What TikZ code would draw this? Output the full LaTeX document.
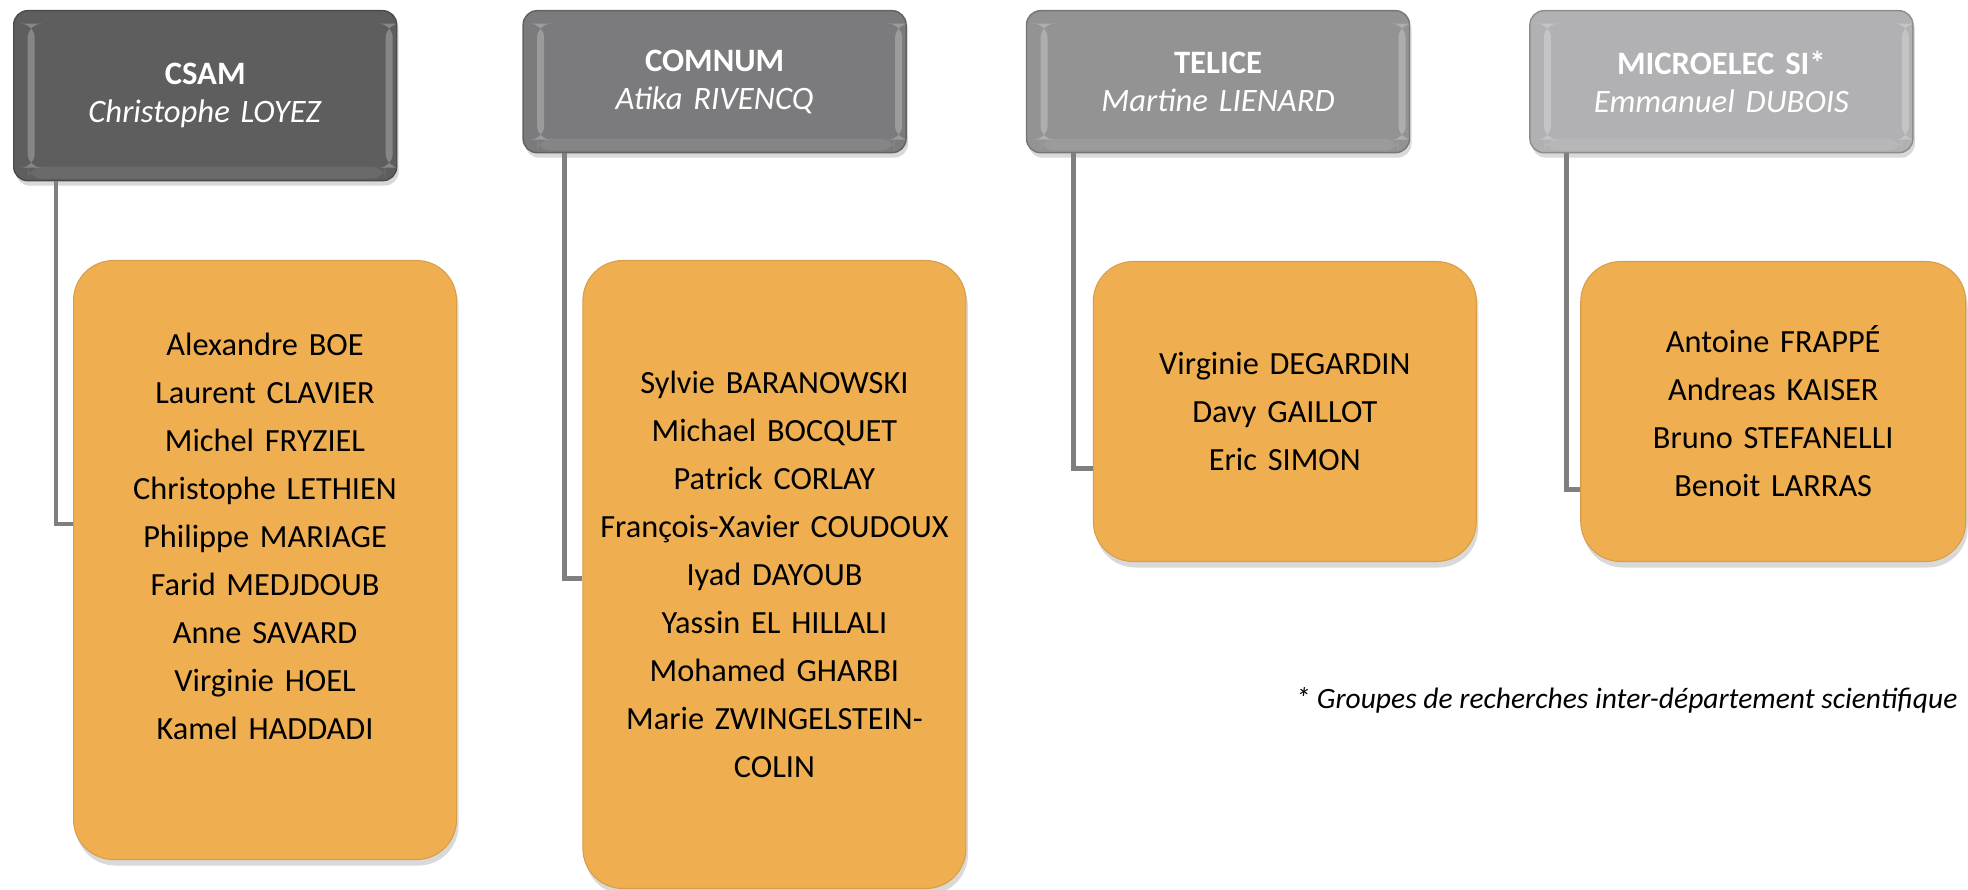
\documentclass[tikz,border=0pt]{standalone}
\usepackage{fontspec}
\setmainfont{Carlito}
\usetikzlibrary{calc,positioning,shadows}

\definecolor{csamgray}{HTML}{5E5E5E}
\definecolor{comnumgray}{HTML}{7B7A7C}
\definecolor{telicegray}{HTML}{939393}
\definecolor{microgray}{HTML}{B1B0B2}
\definecolor{memberorange}{HTML}{EFAF50}
\definecolor{linkgray}{HTML}{7F7F7F}

\begin{document}
\begin{tikzpicture}[
    head/.style={rectangle, rounded corners=0.14cm, fill=#1, draw=#1!80!black, line width=0.4pt,
        text=white, minimum width=3.83cm, text width=3.6cm, align=center, inner sep=0pt,
        font=\fontsize{9.3}{10.8}\selectfont, bevel,
        drop shadow={shadow xshift=0.02cm, shadow yshift=-0.05cm, opacity=0.3}},
    bevel/.style={path picture={
        \fill[white, opacity=0.25] ([shift={(0.14,0.13)}]path picture bounding box.south west) rectangle ([shift={(0.21,-0.13)}]path picture bounding box.north west);
        \fill[white, opacity=0.25] ([shift={(-0.04,0.13)}]path picture bounding box.south east) rectangle ([shift={(-0.11,-0.13)}]path picture bounding box.north east);
        \fill[white, opacity=0.08] ([shift={(0.14,0.02)}]path picture bounding box.south west) rectangle ([shift={(-0.11,0.14)}]path picture bounding box.south east);
    }},
    members/.style={rectangle, rounded corners=0.4cm, fill=memberorange, draw=memberorange!90!black, line width=0.3pt,
        minimum width=3.83cm, text width=3.6cm, align=center, inner sep=0pt, anchor=north west,
        font=\fontsize{9.2}{13.66}\selectfont,
        drop shadow={shadow xshift=0.02cm, shadow yshift=-0.06cm, opacity=0.3}},
    link/.style={draw=linkgray, line width=1.4pt}
]
\useasboundingbox (0,0) rectangle (19.68,-8.90);

% Groups
\node[head=csamgray, minimum height=1.70cm, anchor=north west] (csam) at (0.13,-0.10)
    {\textbf{CSAM}\\\textit{Christophe LOYEZ}};
\node[head=comnumgray, minimum height=1.42cm, right=1.25cm of csam.north east, anchor=north west] (comnum)
    {\textbf{COMNUM}\\\textit{Atika RIVENCQ}};
\node[head=telicegray, minimum height=1.42cm, right=1.19cm of comnum.north east, anchor=north west] (telice)
    {\textbf{TELICE}\\\textit{Martine LIENARD}};
\node[head=microgray, minimum height=1.42cm, right=1.19cm of telice.north east, anchor=north west] (micro)
    {\textbf{MICROELEC SI*}\\\textit{Emmanuel DUBOIS}};

% Members
\node[members, minimum height=5.99cm] (csamlist) at ($(csam.north west)+(0.60,-2.50)$)
    {Alexandre BOE\\Laurent CLAVIER\\Michel FRYZIEL\\Christophe LETHIEN\\Philippe MARIAGE\\Farid MEDJDOUB\\Anne SAVARD\\Virginie HOEL\\Kamel HADDADI\\\mbox{}};
\node[members, minimum height=6.28cm] (comnumlist) at ($(comnum.north west)+(0.60,-2.50)$)
    {Sylvie BARANOWSKI\\Michael BOCQUET\\Patrick CORLAY\\François-Xavier COUDOUX\\Iyad DAYOUB\\Yassin EL HILLALI\\Mohamed GHARBI\\Marie ZWINGELSTEIN-\\COLIN};
\node[members, minimum height=3.00cm] (telicelist) at ($(telice.north west)+(0.67,-2.51)$)
    {Virginie DEGARDIN\\Davy GAILLOT\\Eric SIMON};
\node[members, minimum height=3.00cm, minimum width=3.85cm] (microlist) at ($(micro.north west)+(0.51,-2.51)$)
    {Antoine FRAPPÉ\\Andreas KAISER\\Bruno STEFANELLI\\Benoit LARRAS};

% Lines
\draw[link] ([xshift=0.43cm]csam.south west) |- ($(csamlist.north west)!0.44!(csamlist.south west)$);
\draw[link] ([xshift=0.42cm]comnum.south west) |- ($(comnumlist.north west)!0.506!(comnumlist.south west)$);
\draw[link] ([xshift=0.48cm]telice.south west) |- ($(telicelist.north west)!0.69!(telicelist.south west)$);
\draw[link] ([xshift=0.37cm]micro.south west) |- ($(microlist.north west)!0.76!(microlist.south west)$);

% Note
\node[anchor=east, font=\fontsize{8.4}{10}\selectfont\itshape, inner sep=0pt] (note) at (19.58,-7.00)
    {* Groupes de recherches inter-département scientifique};

\end{tikzpicture}
\end{document}
